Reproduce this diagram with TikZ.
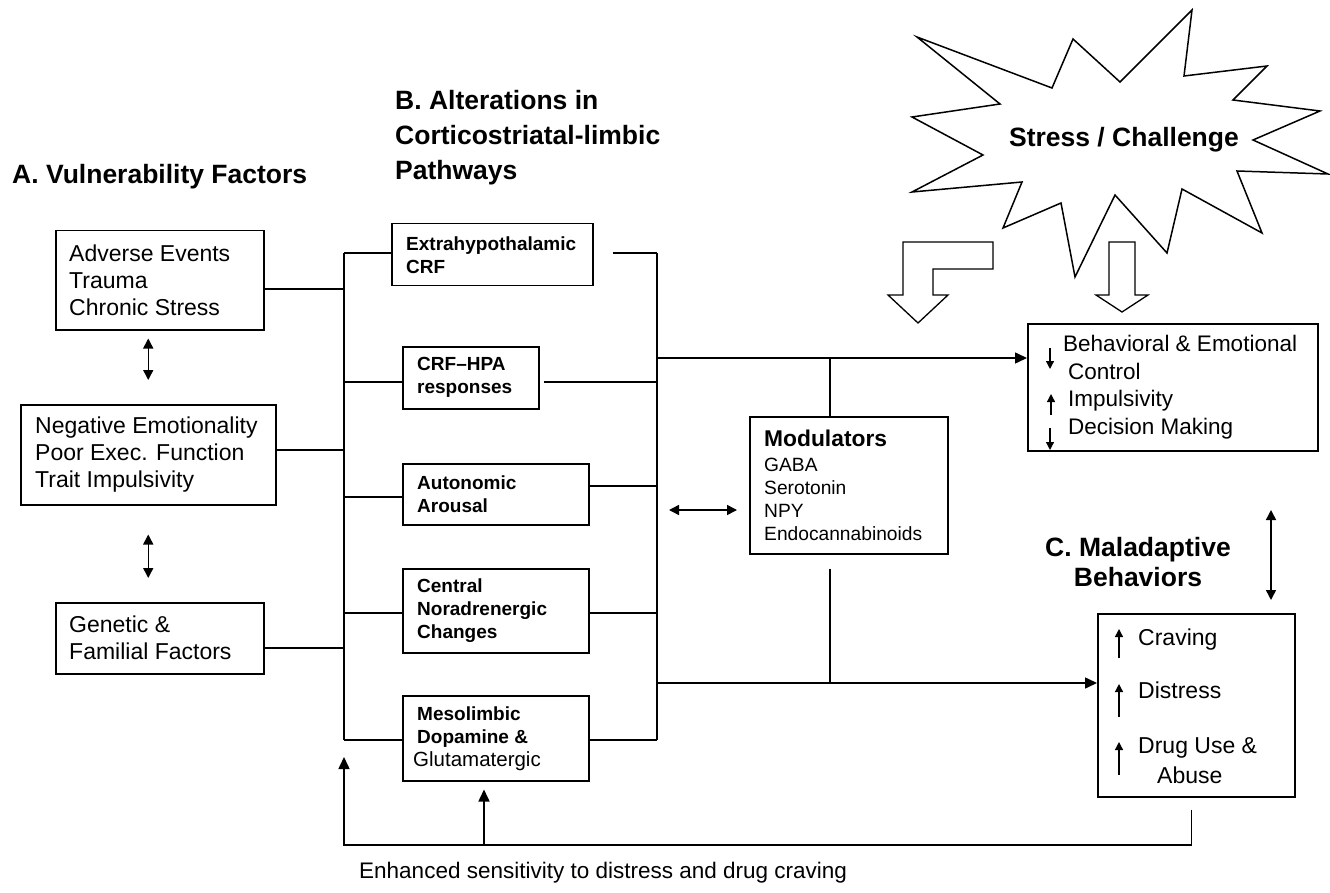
\documentclass[tikz,border=0pt]{standalone}
\usepackage{fontspec}
\setmainfont{Liberation Sans}
\usetikzlibrary{arrows.meta,calc}
\begin{document}
\begin{tikzpicture}[x=1pt,y=-1pt,
  ln/.style={line width=1.5pt},
  box/.style={draw,line width=1.5pt,anchor=north west,inner sep=0pt},
  txt/.style={anchor=west,align=left,inner sep=0pt},
  arr/.style={ln,-{Triangle[length=12pt,width=11pt]}},
  darr/.style={ln,{Triangle[length=10pt,width=10pt]}-{Triangle[length=10pt,width=10pt]}},
  tinyarr/.style={line width=1.3pt,-{Triangle[length=8pt,width=8pt]}},
  bigfont/.style={font=\fontsize{26.5}{35}\selectfont\bfseries},
  lfont/.style={font=\fontsize{23}{27}\selectfont},
  bfont/.style={font=\fontsize{19}{23}\selectfont\bfseries},
  mfont/.style={font=\fontsize{19.2}{23}\selectfont},
  rfont/.style={font=\fontsize{22.5}{27.7}\selectfont},
  blockarrow/.style={line width=1.3pt,fill=white}
]
\useasboundingbox (0,0) rectangle (1330,893);

% ---------- headings ----------
\node[bigfont,anchor=west,inner sep=0pt] (tA) at (12,177) {A. Vulnerability Factors};
\node[bigfont,anchor=north west,align=left,inner sep=0pt] (tB) at (395,90) {B. Alterations in\\Corticostriatal-limbic\\Pathways};
\node[font=\fontsize{26.5}{30}\selectfont\bfseries,align=center,inner sep=0pt] (tC) at (1138,562) {C. Maladaptive\\Behaviors};

% ---------- stress burst ----------
\draw[ln,fill=white] (917,37) -- (1052,88) -- (1073,39) -- (1120,82) -- (1192,10) -- (1184,76) -- (1267,66) -- (1233,100) -- (1320,111) -- (1253,140) -- (1328,174) -- (1237,171) -- (1262,233) -- (1182,189) -- (1167,253) -- (1115,195) -- (1075,277) -- (1061,203) -- (1003,228) -- (1022,182) -- (912,192) -- (983,155) -- (912,117) -- (1000,104) -- cycle;
\node[bigfont] (stress) at (1124,140) {Stress / Challenge};

% block arrows
\draw[blockarrow] (993,242) -- (903,242) -- (903,295) -- (888,295) -- (918,323) -- (948,295) -- (933,295) -- (933,269) -- (993,269) -- cycle;
\draw[blockarrow] (1109,242) -- (1135,242) -- (1135,295) -- (1148,295) -- (1122,312) -- (1096,295) -- (1109,295) -- cycle;

% ---------- A boxes ----------
\node[box,minimum width=208pt,minimum height=99pt] (adv) at (55,230) {};
\node[txt,lfont] (advT) at ($(adv.west)+(14,0)$) {Adverse Events\\Trauma\\Chronic Stress};
\node[box,minimum width=255pt,minimum height=100pt] (neg) at (20,404) {};
\node[txt,lfont] (negT) at ($(neg.west)+(15,0)$) {Negative Emotionality\\Poor Exec. Function\\Trait Impulsivity};
\node[box,minimum width=208pt,minimum height=71pt] (gen) at (55,602) {};
\node[txt,lfont] (genT) at ($(gen.west)+(14,0)$) {Genetic \&\\Familial Factors};

\draw[darr] ($(adv.south -| neg.north)+(0,8)$) -- ($(neg.north)+(0,-24)$);
\draw[darr] ($(neg.south)+(0,29)$) -- ($(gen.north -| neg.south)+(0,-24)$);

% ---------- B boxes ----------
\node[box,minimum width=201pt,minimum height=62pt] (extra) at (391,223) {};
\node[txt,bfont] (extraT) at ($(extra.west)+(15,0)$) {Extrahypothalamic\\CRF};
\node[box,minimum width=136pt,minimum height=62pt] (crf) at (402,346) {};
\node[txt,bfont] (crfT) at ($(crf.west)+(15,0)$) {CRF–HPA\\responses};
\node[box,minimum width=186pt,minimum height=61pt] (auto) at (402,463) {};
\node[txt,bfont] (autoT) at ($(auto.west)+(15,0)$) {Autonomic\\Arousal};
\node[box,minimum width=186pt,minimum height=84pt] (cent) at (402,568) {};
\node[txt,bfont] (centT) at ($(cent.west)+(15,0)$) {Central\\Noradrenergic\\Changes};
\node[box,minimum width=186pt,minimum height=85pt] (meso) at (402,695) {};
\node[txt,bfont] (mesoT) at ($(meso.west)+(15,0)$) {Mesolimbic\\Dopamine \&\\\hspace*{-4pt}{\mdseries\fontsize{20.5}{23}\selectfont Glutamatergic}};

% ---------- modulators ----------
\node[box,minimum width=198pt,minimum height=137pt] (mod) at (749,416) {};
\node[txt,mfont] (modT) at ($(mod.west)+(15,0)$) {{\fontsize{22.8}{23}\selectfont\bfseries Modulators}\\[2pt]GABA\\Serotonin\\NPY\\Endocannabinoids};

% ---------- C boxes ----------
\node[box,minimum width=290pt,minimum height=127pt] (beh) at (1027,323) {};
\node[txt,rfont] (behT) at ($(beh.west)+(36,0)$) {Behavioral \& Emotional\\\hspace*{5pt}Control\\\hspace*{5pt}Impulsivity\\\hspace*{5pt}Decision Making};
\draw[tinyarr] ($(beh.north west)+(23,25)$) -- ++(0,21);
\draw[tinyarr] ($(beh.north west)+(24,92)$) -- ++(0,-21);
\draw[tinyarr] ($(beh.north west)+(23,105)$) -- ++(0,22);

\node[box,minimum width=197pt,minimum height=183pt] (mal) at (1097,613) {};
\node[txt,font=\fontsize{23}{30}\selectfont] (malT) at ($(mal.west)+(41,1)$) {Craving\\[23pt]Distress\\[25pt]Drug Use \&\\\hspace*{19pt}Abuse};
\draw[tinyarr] ($(mal.north west)+(22,45)$) -- ++(0,-29);
\draw[tinyarr] ($(mal.north west)+(22,104)$) -- ++(0,-33);
\draw[tinyarr] ($(mal.north west)+(22,162)$) -- ++(0,-33);

\coordinate (cR) at (1271,510);
\draw[darr] (cR) -- ($(mal.north -| cR)+(0,-13)$);

% ---------- left bus ----------
\coordinate (lbT) at (344,253);
\coordinate (lbB) at (344,740);
\coordinate (lA) at (344,289);
\coordinate (lN) at (344,450);
\coordinate (lG) at (344,648);
\coordinate (l2) at (344,382);
\coordinate (l3) at (344,497);
\coordinate (l4) at (344,613);
\draw[ln] (lbT) -- (lbB);
\draw[ln] (adv.east |- lA) -- (lA);
\draw[ln] (neg.east |- lN) -- (lN);
\draw[ln] (gen.east |- lG) -- (lG);
\draw[ln] (lbT) -- (extra.west |- lbT);
\draw[ln] (l2) -- (crf.west |- l2);
\draw[ln] (l3) -- (auto.west |- l3);
\draw[ln] (l4) -- (cent.west |- l4);
\draw[ln] (lbB) -- (meso.west |- lbB);

% ---------- right bus ----------
\coordinate (rT) at (657,253);
\coordinate (rB) at (657,740);
\coordinate (rM) at (657,358);
\coordinate (r2) at (657,382);
\coordinate (r3) at (657,486);
\coordinate (r4) at (657,613);
\coordinate (rL) at (657,683);
\draw[ln] (rT) -- (rB);
\draw[ln] ($(extra.east |- rT)+(19,0)$) -- (rT);
\draw[ln] ($(crf.east |- r2)+(4,0)$) -- (r2);
\draw[ln] (auto.east |- r3) -- (r3);
\draw[ln] (cent.east |- r4) -- (r4);
\draw[ln] (meso.east |- rB) -- (rB);
\draw[arr] (rM) -- (beh.west |- rM);
\draw[arr] (rL) -- (mal.west |- rL);

\coordinate (mM) at (830,358);
\coordinate (mL) at (830,683);
\draw[ln] (mM) -- (mM |- mod.north);
\draw[ln] ($(mM |- mod.south)+(0,14)$) -- (mL);
\coordinate (dm) at (669,510);
\draw[darr] (dm) -- ($(mod.west |- dm)+(-12,0)$);

% ---------- feedback ----------
\coordinate (fbR) at ($(mal.south)+(-5,12)$);
\coordinate (fbL) at (344,845);
\coordinate (fbM) at (484,845);
\draw[arr] (fbR) |- (fbL) -- ($(lbB)+(0,17)$);
\draw[arr] (fbM) -- ($(fbM |- meso.south)+(0,8)$);
\node[anchor=west,inner sep=0pt,font=\fontsize{22.5}{27}\selectfont] (enh) at (359,873) {Enhanced sensitivity to distress and drug craving};
\end{tikzpicture}
\end{document}
